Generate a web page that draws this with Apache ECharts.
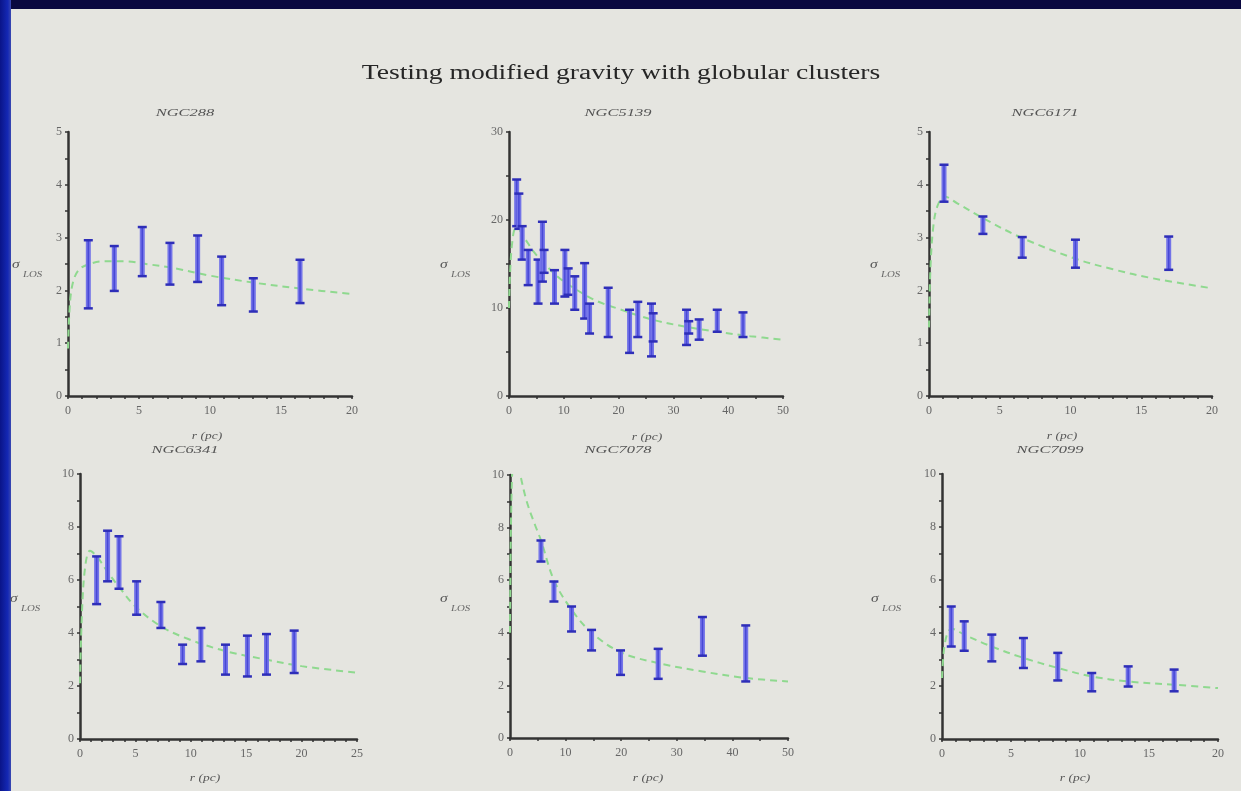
<!DOCTYPE html>
<html>
<head>
<meta charset="utf-8">
<script src="https://cdn.jsdelivr.net/npm/echarts@6/dist/echarts.min.js"></script>
<style>
html,body{margin:0;padding:0;background:#0a0840;}
#chart{width:1241px;height:791px;}
</style>
</head>
<body>
<div id="chart"></div>
<script>
// ---------------- DATA ----------------
const mainTitle = "Testing modified gravity with globular clusters";
const clusterNames = ["NGC288", "NGC5139", "NGC6171", "NGC6341", "NGC7078", "NGC7099"];
const xAxisLabel = "r (pc)";
const yAxisSymbol = "σ";
const yAxisSub = "LOS";

// NGC288
const ngc288_r  = [1.43, 3.26, 5.23, 7.18, 9.13, 10.82, 13.05, 16.34];
const ngc288_lo = [1.66, 1.99, 2.27, 2.11, 2.16, 1.72, 1.60, 1.76];
const ngc288_hi = [2.95, 2.84, 3.20, 2.90, 3.04, 2.64, 2.23, 2.58];
const ngc288_model_r = [0, 0.15, 0.4, 0.8, 1.5, 2.5, 4, 5.5, 7.5, 10, 13, 16.5, 20];
const ngc288_model_v = [0.9, 1.8, 2.2, 2.4, 2.5, 2.55, 2.55, 2.5, 2.42, 2.28, 2.15, 2.03, 1.93];

// NGC5139
const ngc5139_r  = [1.4, 1.8, 2.4, 3.5, 5.3, 6.1, 6.4, 8.3, 10.2, 10.8, 12.0, 13.8, 14.7, 18.1, 22.0, 23.5, 26.0, 26.3, 32.4, 32.8, 34.7, 38.0, 42.7];
const ngc5139_lo = [19.3, 19.0, 15.5, 12.6, 10.5, 13.0, 14.0, 10.5, 11.3, 11.5, 9.8, 8.8, 7.1, 6.7, 4.9, 6.7, 4.5, 6.2, 5.8, 7.1, 6.4, 7.3, 6.7];
const ngc5139_hi = [24.6, 23.0, 19.3, 16.6, 15.5, 19.8, 16.6, 14.3, 16.6, 14.5, 13.6, 15.1, 10.5, 12.3, 9.8, 10.7, 10.5, 9.4, 9.8, 8.5, 8.7, 9.8, 9.5];
const ngc5139_model_r = [0, 0.2, 0.6, 1.2, 2, 3, 4.5, 6.5, 9, 12, 16, 20, 26, 32, 38, 44, 50];
const ngc5139_model_v = [10, 14, 17.5, 19, 18.8, 17.8, 16.4, 15, 13.5, 12.2, 10.8, 9.9, 8.7, 7.9, 7.3, 6.8, 6.4];

// NGC6171
const ngc6171_r  = [1.06, 3.81, 6.59, 10.35, 16.94];
const ngc6171_lo = [3.68, 3.07, 2.62, 2.43, 2.39];
const ngc6171_hi = [4.38, 3.40, 3.01, 2.96, 3.02];
const ngc6171_model_r = [0, 0.1, 0.3, 0.6, 1.1, 2, 3.8, 6.6, 10.35, 13, 15.8, 20];
const ngc6171_model_v = [1.3, 2.4, 3.2, 3.6, 3.78, 3.65, 3.37, 2.99, 2.6, 2.4, 2.23, 2.04];

// NGC6341
const ngc6341_r  = [1.50, 2.49, 3.52, 5.11, 7.30, 9.26, 10.91, 13.13, 15.11, 16.83, 19.33];
const ngc6341_lo = [5.09, 5.95, 5.67, 4.69, 4.19, 2.83, 2.93, 2.43, 2.36, 2.43, 2.49];
const ngc6341_hi = [6.89, 7.86, 7.65, 5.95, 5.17, 3.56, 4.19, 3.56, 3.90, 3.96, 4.09];
const ngc6341_model_r = [0, 0.2, 0.5, 0.9, 1.5, 2.5, 3.5, 5, 7.3, 9.6, 13, 17, 20, 25];
const ngc6341_model_v = [2.1, 5.0, 6.6, 7.1, 6.9, 6.3, 5.75, 5.0, 4.25, 3.8, 3.33, 2.98, 2.75, 2.5];

// NGC7078
const ngc7078_r  = [5.57, 7.90, 11.07, 14.67, 19.88, 26.65, 34.61, 42.4];
const ngc7078_lo = [6.71, 5.19, 4.05, 3.33, 2.40, 2.25, 3.13, 2.15];
const ngc7078_hi = [7.51, 5.95, 5.00, 4.11, 3.33, 3.39, 4.60, 4.28];
const ngc7078_model_r = [0, 0.3, 0.8, 1.5, 3, 4.5, 5.6, 7.9, 11, 14.7, 20, 26.6, 34.6, 42.4, 50];
const ngc7078_model_v = [4, 9.5, 10.8, 10.3, 9.0, 8.1, 7.5, 6.0, 4.9, 4.0, 3.25, 2.85, 2.53, 2.28, 2.15];

// NGC7099
const ngc7099_r  = [0.67, 1.61, 3.61, 5.90, 8.39, 10.85, 13.49, 16.82];
const ngc7099_lo = [3.49, 3.33, 2.93, 2.68, 2.21, 1.80, 1.98, 1.80];
const ngc7099_hi = [5.00, 4.44, 3.94, 3.81, 3.25, 2.49, 2.74, 2.62];
const ngc7099_model_r = [0, 0.15, 0.4, 0.7, 1.6, 3.6, 5.9, 8.4, 10.85, 13.5, 16.8, 20];
const ngc7099_model_v = [2.3, 3.4, 4.0, 4.16, 3.94, 3.49, 3.06, 2.68, 2.36, 2.17, 2.05, 1.92];

// axis ranges (tick labels)
const xMax = [20, 50, 20, 25, 50, 20];
const xStep = [5, 10, 5, 5, 10, 5];
const xMinorSplit = [5, 2, 5, 5, 2, 5];
const yMax = [5, 30, 5, 10, 10, 10];
const yStep = [1, 10, 1, 2, 2, 2];
const yMinorSplit = [2, 2, 2, 2, 2, 2];

// ---------------- LAYOUT ----------------
const grids = [
  {left: 68,  top: 132, width: 284, height: 264},
  {left: 509, top: 132, width: 274, height: 264},
  {left: 929, top: 132, width: 283, height: 264},
  {left: 80,  top: 474, width: 277, height: 265},
  {left: 510, top: 475, width: 278, height: 263},
  {left: 942, top: 474, width: 276, height: 265}
];
const titlePos = [[185, 113], [618, 113], [1045, 113], [185, 450], [618, 450], [1050, 450]];
const xNamePos = [[207, 436], [647, 437], [1062, 436], [205, 778], [648, 778], [1075, 778]];
const yNamePos = [[12, 265], [440, 265], [870, 265], [10, 599], [440, 599], [871, 599]];

const panels = [
  [ngc288_r, ngc288_lo, ngc288_hi, ngc288_model_r, ngc288_model_v],
  [ngc5139_r, ngc5139_lo, ngc5139_hi, ngc5139_model_r, ngc5139_model_v],
  [ngc6171_r, ngc6171_lo, ngc6171_hi, ngc6171_model_r, ngc6171_model_v],
  [ngc6341_r, ngc6341_lo, ngc6341_hi, ngc6341_model_r, ngc6341_model_v],
  [ngc7078_r, ngc7078_lo, ngc7078_hi, ngc7078_model_r, ngc7078_model_v],
  [ngc7099_r, ngc7099_lo, ngc7099_hi, ngc7099_model_r, ngc7099_model_v]
];

const SERIF = "'Liberation Serif','DejaVu Serif',serif";
const axisColor = '#333';
const labelColor = '#666';

function errRender(params, api) {
  const x = api.value(0), lo = api.value(1), hi = api.value(2);
  const a = api.coord([x, lo]), b = api.coord([x, hi]);
  const cw = 4.5;
  return {
    type: 'group',
    children: [
      {type: 'line', shape: {x1: a[0], y1: a[1], x2: b[0], y2: b[1]}, style: {stroke: '#7373e8', lineWidth: 5}},
      {type: 'line', shape: {x1: a[0], y1: a[1], x2: b[0], y2: b[1]}, style: {stroke: '#4848d6', lineWidth: 1.5}},
      {type: 'line', shape: {x1: b[0]-cw, y1: b[1], x2: b[0]+cw, y2: b[1]}, style: {stroke: '#2e2eb8', lineWidth: 2.5}},
      {type: 'line', shape: {x1: a[0]-cw, y1: a[1], x2: a[0]+cw, y2: a[1]}, style: {stroke: '#2e2eb8', lineWidth: 2.5}}
    ]
  };
}

const xAxes = [], yAxes = [], series = [], graphics = [];

graphics.push({type: 'rect', shape: {x: 0, y: 0, width: 1241, height: 9}, style: {fill: '#0a0840'}, z: 10});
graphics.push({type: 'rect', shape: {x: 0, y: 0, width: 11, height: 791},
  style: {fill: new echarts.graphic.LinearGradient(0, 0, 1, 0, [{offset: 0, color: '#0a1488'}, {offset: 0.7, color: '#1428b4'}, {offset: 1, color: '#3a48b0'}])}, z: 10});
graphics.push({type: 'text', x: 621, y: 74, z: 20, scaleX: 1.38,
  style: {text: mainTitle, font: "20px " + SERIF, fill: '#262626', align: 'center', verticalAlign: 'middle'}});

panels.forEach((p, i) => {
  const axisCommon = {
    type: 'value', gridIndex: i, min: 0,
    axisLine: {show: true, onZero: false, lineStyle: {color: axisColor, width: 2.5}},
    axisTick: {show: true, length: 3, lineStyle: {color: axisColor, width: 1.5}},
    minorTick: {show: true, length: 3, lineStyle: {color: axisColor, width: 1.5}},
    splitLine: {show: false},
    axisLabel: {color: labelColor, fontFamily: SERIF, fontSize: 12}
  };
  xAxes.push(Object.assign({}, axisCommon, {
    max: xMax[i], interval: xStep[i],
    minorTick: Object.assign({}, axisCommon.minorTick, {splitNumber: xMinorSplit[i]}),
    axisLabel: Object.assign({}, axisCommon.axisLabel, {margin: 9})
  }));
  yAxes.push(Object.assign({}, axisCommon, {
    max: yMax[i], interval: yStep[i],
    minorTick: Object.assign({}, axisCommon.minorTick, {splitNumber: yMinorSplit[i]}),
    axisLabel: Object.assign({}, axisCommon.axisLabel, {margin: 6})
  }));
  const [r, lo, hi, mr, mv] = p;
  series.push({
    type: 'line', xAxisIndex: i, yAxisIndex: i, smooth: 0.35, symbol: 'none', clip: true,
    data: mr.map((x, k) => [x, mv[k]]),
    lineStyle: {color: '#8fd98f', width: 2, type: [7, 5]}, z: 2
  });
  series.push({
    type: 'custom', xAxisIndex: i, yAxisIndex: i, renderItem: errRender,
    encode: {x: 0, y: [1, 2]},
    data: r.map((x, k) => [x, lo[k], hi[k]]), z: 3
  });
  graphics.push({type: 'text', x: titlePos[i][0], y: titlePos[i][1], z: 20, scaleX: 1.5,
    style: {text: clusterNames[i], font: "italic 11px " + SERIF, fill: '#555', align: 'center', verticalAlign: 'middle'}});
  graphics.push({type: 'text', x: xNamePos[i][0], y: xNamePos[i][1], z: 20, scaleX: 1.35,
    style: {text: xAxisLabel, font: "italic 10px " + SERIF, fill: '#555', align: 'center', verticalAlign: 'middle'}});
  graphics.push({type: 'text', x: yNamePos[i][0], y: yNamePos[i][1], z: 20, scaleX: 1.3,
    style: {text: yAxisSymbol, font: "italic 12px " + SERIF, fill: '#555', align: 'left', verticalAlign: 'middle'}});
  graphics.push({type: 'text', x: yNamePos[i][0] + 11, y: yNamePos[i][1] + 10, z: 20, scaleX: 1.35,
    style: {text: yAxisSub, font: "italic 8px " + SERIF, fill: '#666', align: 'left', verticalAlign: 'middle'}});
});

const chart = echarts.init(document.getElementById('chart'), null, {renderer: 'canvas'});
chart.setOption({
  backgroundColor: '#e5e5e0',
  animation: false,
  grid: grids,
  xAxis: xAxes,
  yAxis: yAxes,
  series: series,
  graphic: graphics
});
</script>
</body>
</html>
